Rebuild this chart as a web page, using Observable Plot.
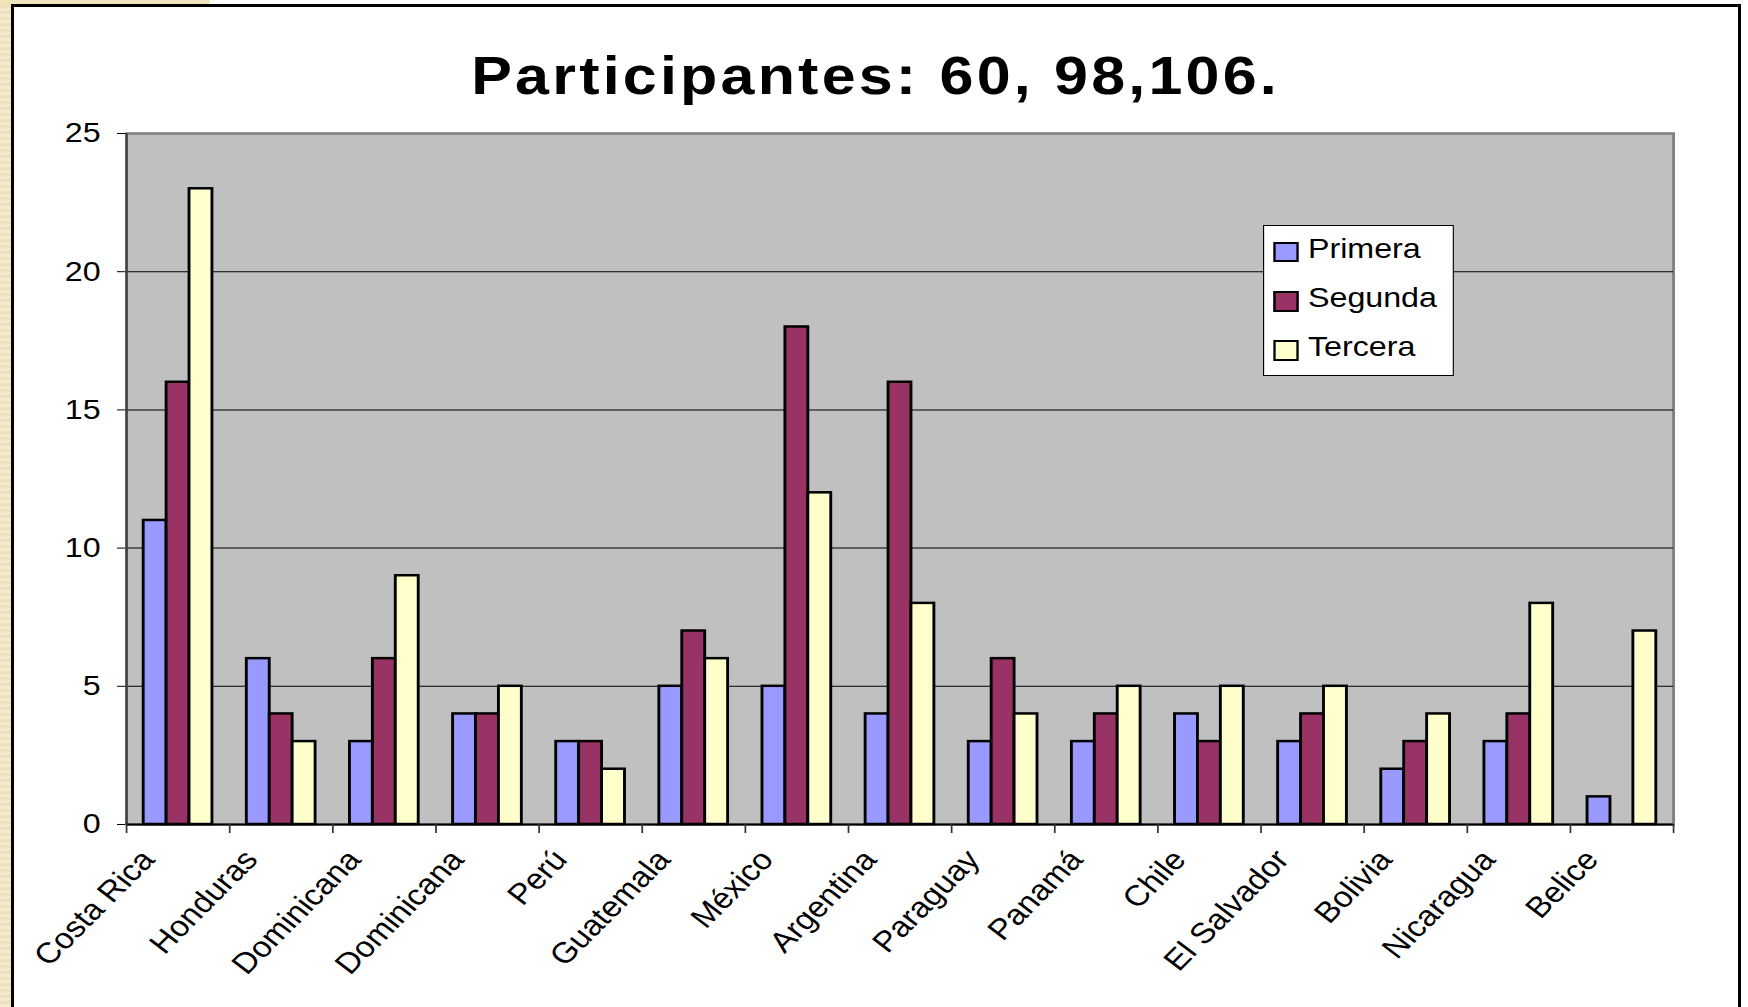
<!DOCTYPE html>
<html>
<head>
<meta charset="utf-8">
<script src="https://cdn.jsdelivr.net/npm/d3@7"></script>
<script src="https://cdn.jsdelivr.net/npm/@observablehq/plot@0.6"></script>
<style>
  html, body { margin: 0; padding: 0; background: #fff; }
  #page { position: relative; width: 1748px; height: 1007px; overflow: hidden; background: #fff;
          font-family: "Liberation Sans", Arial, sans-serif; color: #000; }
  #beigeLeft { position: absolute; left: 0; top: 0; width: 12px; height: 1007px;
               background: repeating-linear-gradient(0deg, #f3ebcd 0 3px, #ede2bd 3px 6px); }
  #beigeTop { position: absolute; left: 0; top: 0; width: 210px; height: 5px; background: #f1e5bd; }
  #frame { position: absolute; left: 11px; top: 4px; width: 1730px; height: 1100px;
           border: 3px solid #000; box-sizing: border-box; }
  #title { position: absolute; top: 0; left: 0; font-weight: bold; font-size: 53px; line-height: 53px;
           text-align: center; white-space: nowrap; transform-origin: 0 0; }
  #chart { position: absolute; left: 0; top: 110px; }
  #legend { position: absolute; left: 1262.7px; top: 224.7px; height: 151px; background: #fff;
            border: 1px solid #000; box-sizing: border-box; transform-origin: 0 0; }
  #legend .sw { position: absolute; box-sizing: border-box; border: 2.5px solid #000; }
  #legend .lb { position: absolute; font-size: 28px; line-height: 28px; white-space: nowrap; }
</style>
</head>
<body>
<div id="page">
  <div id="beigeLeft"></div>
  <div id="beigeTop"></div>
  <div id="frame"></div>
  <div id="title"></div>
  <div id="chart"></div>
  <div id="legend"></div>
</div>
<script>
// ---- data ----
const categories = ["Costa Rica", "Honduras", "Dominicana", "Dominicana", "Perú", "Guatemala", "México",
  "Argentina", "Paraguay", "Panamá", "Chile", "El Salvador", "Bolivia", "Nicaragua", "Belice"];
const primera = [11, 6, 3, 4, 3, 5, 5, 4, 3, 3, 4, 3, 2, 3, 1];
const segunda = [16, 4, 6, 4, 3, 7, 18, 16, 6, 4, 3, 4, 3, 4, 0];
const tercera = [23, 3, 9, 5, 2, 6, 12, 8, 4, 5, 5, 5, 4, 8, 7];
const seriesNames = ["Primera", "Segunda", "Tercera"];
const seriesColors = ["#9999ff", "#993366", "#ffffcc"];
const yTicks = [0, 5, 10, 15, 20, 25];
const titleText = "Participantes: 60, 98,106.";

// ---- layout (final pixels) ----
const S = 1.15;                 // horizontal stretch of the original picture
const W = 1748, H = 897;        // svg size
const ML = 126, MR = 75, MT = 23, MB = 183;
const n = categories.length;
const stepU = (W - ML - MR) / n / S;   // band step in svg units
const bw = stepU / 4.5;                // bar width (gap = 1.5 bar widths)
const idx = d3.range(n);
const seriesValues = [primera, segunda, tercera];
const labelAngle = Math.atan(S) * 180 / Math.PI; // appears as 45° once stretched

const barMarks = seriesValues.map((vals, s) =>
  Plot.barY(idx.filter(i => vals[i] > 0), {
    x: i => i, y: i => vals[i],
    fill: seriesColors[s], stroke: "#000", strokeWidth: 2.5,
    insetLeft: (0.75 + s) * bw, insetRight: (2.75 - s) * bw
  })
);

const svg = Plot.plot({
  width: W / S, height: H,
  marginLeft: ML / S, marginRight: MR / S, marginTop: MT, marginBottom: MB,
  style: { fontFamily: "Liberation Sans, Arial, sans-serif", fontSize: "28px", color: "#000",
           background: "transparent", overflow: "visible" },
  x: { type: "band", domain: idx, padding: 0, round: false, axis: null },
  y: { domain: [0, 25], ticks: yTicks, tickSize: 9 / S, tickPadding: 17 / S, label: null,
       tickFormat: d => String(d) },
  marks: [
    Plot.frame({ fill: "#c0c0c0", stroke: "#808080", strokeWidth: 2.5 }),
    Plot.ruleY(yTicks.filter(t => t > 0 && t < 25), { stroke: "#000", strokeWidth: 1 }),
    ...barMarks,
    Plot.ruleX([0], { x: d => d, dx: -stepU / 2, stroke: "#404040", strokeWidth: 2 }),
    Plot.ruleY([0], { stroke: "#000", strokeWidth: 2 }),
    Plot.ruleX(idx, { x: d => d, y1: 0, y2: 0, insetBottom: -9, dx: -stepU / 2, stroke: "#333", strokeWidth: 1.5 }),
    Plot.ruleX([n - 1], { x: d => d, y1: 0, y2: 0, insetBottom: -9, dx: stepU / 2, stroke: "#333", strokeWidth: 1.5 }),
    Plot.text(idx, {
      x: d => d, text: d => categories[d], frameAnchor: "bottom",
      rotate: -labelAngle, textAnchor: "end", lineAnchor: "bottom",
      dx: -22 / S, dy: 36, fontSize: 29, fill: "#000"
    })
  ]
});
svg.setAttribute("width", W);
svg.setAttribute("height", H);
svg.setAttribute("preserveAspectRatio", "none");
svg.style.width = W + "px";
svg.style.height = H + "px";
svg.style.maxWidth = "none";
svg.style.background = "transparent";
document.getElementById("chart").appendChild(svg);

// ---- title (baseline near y = 94) ----
const title = document.getElementById("title");
title.textContent = titleText;
title.style.top = (94 - 0.5 * (53 - 1.117 * 53) - 0.905 * 53) + "px";
title.style.width = (W / S) + "px";
title.style.letterSpacing = "2.8px";
title.style.paddingLeft = "2.8px";
title.style.boxSizing = "border-box";
title.style.transform = `scaleX(${S})`;

// ---- legend ----
const legend = document.getElementById("legend");
legend.style.width = (191.3 / S) + "px";
legend.style.transform = `scaleX(${S})`;
seriesNames.forEach((name, s) => {
  const sw = document.createElement("div");
  sw.className = "sw";
  sw.style.left = (10.6 / S - 1) + "px";
  sw.style.top = (16 + s * 49.3) + "px";
  sw.style.width = (25 / S) + "px";
  sw.style.height = "20.6px";
  sw.style.background = seriesColors[s];
  legend.appendChild(sw);
  const lb = document.createElement("div");
  lb.className = "lb";
  lb.style.left = (45 / S - 1) + "px";
  lb.style.top = (9 + s * 49.3) + "px";
  lb.textContent = name;
  legend.appendChild(lb);
});
</script>
</body>
</html>
